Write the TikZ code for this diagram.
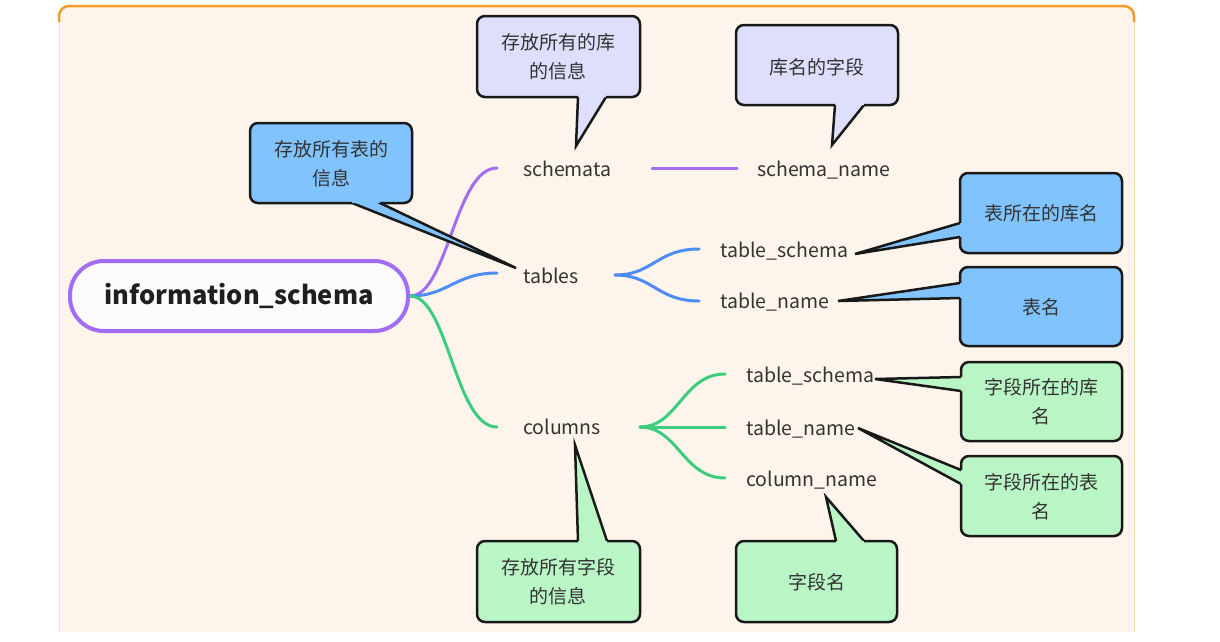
\documentclass[tikz,border=0pt]{standalone}
\usepackage{fontspec}
\setmainfont{Noto Sans CJK SC}
\usetikzlibrary{calc}
\definecolor{bgc}{HTML}{FDF5EB}
\definecolor{framec}{HTML}{F39C2B}
\definecolor{framefaint}{HTML}{F9DDB5}
\definecolor{purp}{HTML}{A36CF2}
\definecolor{bluel}{HTML}{4D8DF5}
\definecolor{greenl}{HTML}{3DCC7E}
\definecolor{lavf}{HTML}{DEDFFC}
\definecolor{bluef}{HTML}{80C3FD}
\definecolor{greenf}{HTML}{BAF5C6}
\definecolor{txt}{HTML}{333333}
\definecolor{rootf}{HTML}{FCFCFF}
\tikzset{
  cbord/.style={draw=black!90, line width=2.5pt, line join=miter},
  lbl/.style={anchor=base west, inner sep=0pt, text=txt, font=\fontsize{19.5}{24}\selectfont},
  ctext/.style={align=center, inner sep=0pt, text=txt, font=\fontsize{19}{29}\selectfont},
  br/.style={line width=3pt, line cap=round},
}
\newcommand\calloutB[8]{%
  \filldraw[cbord, fill=#1] ($#8!1.12!#6$) -- #8 -- ($#8!1.12!#7$);
  \fill[#1, rounded corners=8pt] (#2,#3) rectangle (#4,#5);
  \draw[cbord, rounded corners=8pt] #7 -- (#4,#5) -- (#4,#3) -- (#2,#3) -- (#2,#5) -- #6;
}
\newcommand\calloutT[8]{%
  \filldraw[cbord, fill=#1] ($#8!1.12!#6$) -- #8 -- ($#8!1.12!#7$);
  \fill[#1, rounded corners=8pt] (#2,#3) rectangle (#4,#5);
  \draw[cbord, rounded corners=8pt] #7 -- (#4,#3) -- (#4,#5) -- (#2,#5) -- (#2,#3) -- #6;
}
\newcommand\calloutL[8]{%
  \filldraw[cbord, fill=#1] ($#8!1.12!#6$) -- #8 -- ($#8!1.12!#7$);
  \fill[#1, rounded corners=8pt] (#2,#3) rectangle (#4,#5);
  \draw[cbord, rounded corners=8pt] #7 -- (#2,#5) -- (#4,#5) -- (#4,#3) -- (#2,#3) -- #6;
}
\begin{document}
\begin{tikzpicture}[x=1pt,y=-1pt]
\useasboundingbox (0,0) rectangle (1220,641);
% frame
\begin{scope}
  \clip (0,0) rectangle (1220,631);
  \fill[bgc, rounded corners=10pt] (59,6) rectangle (1134,680);
  \draw[framefaint, line width=1pt] (59,16) -- (59,640);
  \draw[framefaint, line width=1pt] (1134,16) -- (1134,640);
  \draw[framec, line width=2.5pt, rounded corners=10pt] (59,22) -- (59,6) -- (1134,6) -- (1134,22);
\end{scope}

% root
\node[draw=purp, line width=4pt, fill=rootf, rounded corners=34pt,
      minimum width=338pt, minimum height=70pt, inner sep=0pt,
      font=\fontsize{25.5}{30}\selectfont\bfseries, text=black!88] (root) at (239,296) {information\_schema};

% labels
\node[lbl] (schemata) at (523,176) {schemata};
\node[lbl] (schname) at (757,176) {schema\_name};
\node[lbl] (tables) at (523,283) {tables};
\node[lbl] (tschema) at (720,257) {table\_schema};
\node[lbl] (tname) at (720,308) {table\_name};
\node[lbl] (columns) at (523,434) {columns};
\node[lbl] (cschema) at (746,382) {table\_schema};
\node[lbl] (ctname) at (746,435) {table\_name};
\node[lbl] (ccname) at (746,486) {column\_name};

% branch endpoints
\coordinate (sA) at (497,168);
\coordinate (tA) at (497,273);
\coordinate (cA) at (497,427);
\coordinate (sB) at (652,168);
\coordinate (sC) at (737,168);
\coordinate (tB) at (615,275);
\coordinate (tC1) at (699,249);
\coordinate (tC2) at (699,301);
\coordinate (cB) at (640,427);
\coordinate (cC1) at (725,374);
\coordinate (cC2) at (725,427);
\coordinate (cC3) at (725,478);

\draw[br, purp] (root.east) .. controls +(38,0) and +(-42,0) .. (sA);
\draw[br, bluel] (root.east) .. controls +(38,0) and +(-42,0) .. (tA);
\draw[br, greenl] (root.east) .. controls +(38,0) and +(-42,0) .. (cA);
\draw[br, purp] (sB) -- (sC);
\draw[br, bluel] (tB) .. controls +(38,0) and +(-42,0) .. (tC1);
\draw[br, bluel] (tB) .. controls +(38,0) and +(-42,0) .. (tC2);
\draw[br, greenl] (cB) .. controls +(38,0) and +(-42,0) .. (cC1);
\draw[br, greenl] (cB) -- (cC2);
\draw[br, greenl] (cB) .. controls +(38,0) and +(-42,0) .. (cC3);

% callouts
\calloutB{lavf}{477}{16}{640}{97}{(578,97)}{(606,97)}{(576,146)}
\node[ctext] (c1) at (558,57) {存放所有的库\\的信息};
\calloutB{lavf}{736}{25}{898}{105}{(835,105)}{(864,105)}{(832,145)}
\node[ctext] (c2) at (817,67) {库名的字段};
\calloutB{bluef}{250}{123}{412}{203}{(352,203)}{(380,203)}{(516,268)}
\node[ctext] (c3) at (331,164) {存放所有表的\\信息};
\calloutL{bluef}{960}{173}{1122}{253}{(960,223)}{(960,237)}{(855,254)}
\node[ctext] (c4) at (1041,213) {表所在的库名};
\calloutL{bluef}{960}{267}{1122}{346}{(960,283)}{(960,298)}{(838,301)}
\node[ctext] (c5) at (1041,307) {表名};
\calloutL{greenf}{961}{362}{1122}{441}{(961,377)}{(961,391)}{(875,379)}
\node[ctext] (c6) at (1041,402) {字段所在的库\\名};
\calloutL{greenf}{961}{456}{1122}{536}{(961,470)}{(961,484)}{(858,428)}
\node[ctext] (c7) at (1041,497) {字段所在的表\\名};
\calloutT{greenf}{477}{541}{640}{622}{(578,541)}{(607,541)}{(575,445)}
\node[ctext] (c8) at (558,582) {存放所有字段\\的信息};
\calloutT{greenf}{736}{541}{897}{622}{(836,541)}{(864,541)}{(826,497)}
\node[ctext] (c9) at (817,582) {字段名};
\end{tikzpicture}
\end{document}
